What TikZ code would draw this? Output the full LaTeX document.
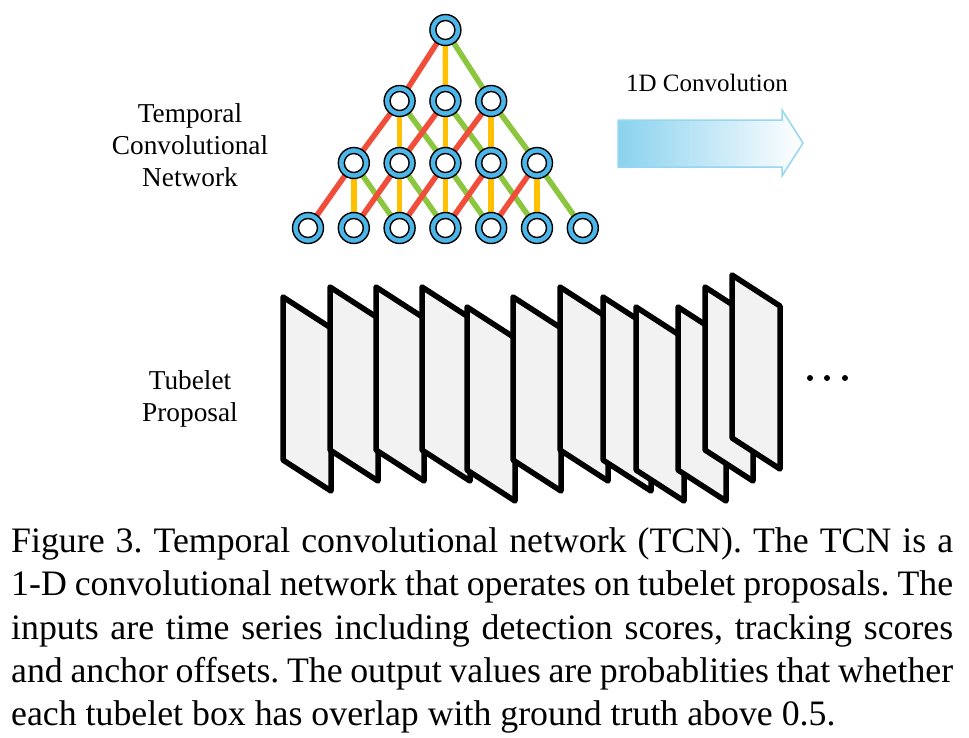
\documentclass[tikz,border=0pt]{standalone}
\usepackage{fontspec}
\setmainfont{Liberation Serif}
\usetikzlibrary{backgrounds}

\definecolor{ringblue}{RGB}{77,182,232}
\definecolor{linkred}{RGB}{240,78,58}
\definecolor{linkyellow}{RGB}{255,192,0}
\definecolor{linkgreen}{RGB}{140,198,63}
\definecolor{arrowleft}{RGB}{138,210,238}
\definecolor{arrowedge}{RGB}{150,214,238}
\definecolor{sheetgray}{RGB}{242,242,242}

\frenchspacing

\begin{document}
\begin{tikzpicture}
        [
            x=1pt, y=-1pt,
            unit/.style={
                circle,
                draw=black,
                line width=1.4pt,
                fill=ringblue,
                minimum size=31pt,
                inner sep=0pt,
                path picture={
                    \draw[fill=white, line width=1.4pt]
                        (path picture bounding box.center) circle (9.5pt);
                }
            },
            link/.style={
                line width=5.5pt
            },
            sheet/.style={
                draw=black,
                fill=sheetgray,
                line width=5.5pt,
                line join=round
            },
            sidetext/.style={
                align=center,
                font=\fontsize{27.3}{32}\selectfont
            },
            capline/.style={
                anchor=base west,
                inner sep=0pt,
                font=\fontsize{35.8}{43}\selectfont
            }
        ]
        \useasboundingbox (0,0) rectangle (969,737);

        % temporal convolutional network
        \foreach \k in {0,...,6}
            \node[unit] (a\k) at ({308+45.8*\k}, 228) {};
        \foreach \k in {0,...,4}
            \node[unit] (b\k) at ({353.8+45.8*\k}, 163) {};
        \foreach \k in {0,...,2}
            \node[unit] (c\k) at ({399.6+45.8*\k}, 101) {};
        \node[unit] (d0) at (445.4,30) {};

        \begin{scope}[on background layer]
            \foreach \col/\off in {linkgreen/2, linkyellow/1, linkred/0}
                \foreach \up/\low/\n in {d/c/0, c/b/2, b/a/4}
                    \foreach \k in {0,...,\n} {
                        \pgfmathtruncatemacro\t{\k+\off}
                        \draw[link, draw=\col] (\up\k.center) -- (\low\t.center);
                    }
        \end{scope}

        \node[sidetext] (tcntext) at (190,145) {Temporal\\Convolutional\\Network};

        % 1D convolution arrow
        \shadedraw[left color=arrowleft, right color=white, draw=arrowedge, line width=1.5pt]
            (618,120) -- (782,120) -- (782,110) -- (803,143)
            -- (782,176) -- (782,167) -- (618,167) -- cycle;
        \node[font=\fontsize{25}{30}\selectfont] (convtext) at (707,83) {1D Convolution};

        % tubelet proposal frames
        \foreach \x/\y in {283/297, 330/287, 376/287, 422/287, 467/307, 513/297,
                           560/287, 603/297, 636/307, 678/307, 705/287, 732/275}
            \draw[sheet] (\x,\y) -- ++(48,31) -- ++(0,163) -- ++(-48,-31) -- cycle;
        \foreach \x in {810,827,845}
            \fill (\x,378) circle (3);
        \node[sidetext] (tubetext) at (190,399) {Tubelet\\Proposal};

        % caption
        \node[capline] (cap1) at (11,552) {\makebox[942pt][s]{Figure 3. Temporal convolutional network (TCN). The TCN is a}};
        \node[capline] (cap2) at (11,595) {\makebox[942pt][s]{1-D convolutional network that operates on tubelet proposals. The}};
        \node[capline] (cap3) at (11,639) {\makebox[942pt][s]{inputs are time series including detection scores, tracking scores}};
        \node[capline] (cap4) at (11,682) {\makebox[942pt][s]{and anchor offsets. The output values are probablities that whether}};
        \node[capline] (cap5) at (11,725) {each tubelet box has overlap with ground truth above 0.5.};
    \end{tikzpicture}
\end{document}
